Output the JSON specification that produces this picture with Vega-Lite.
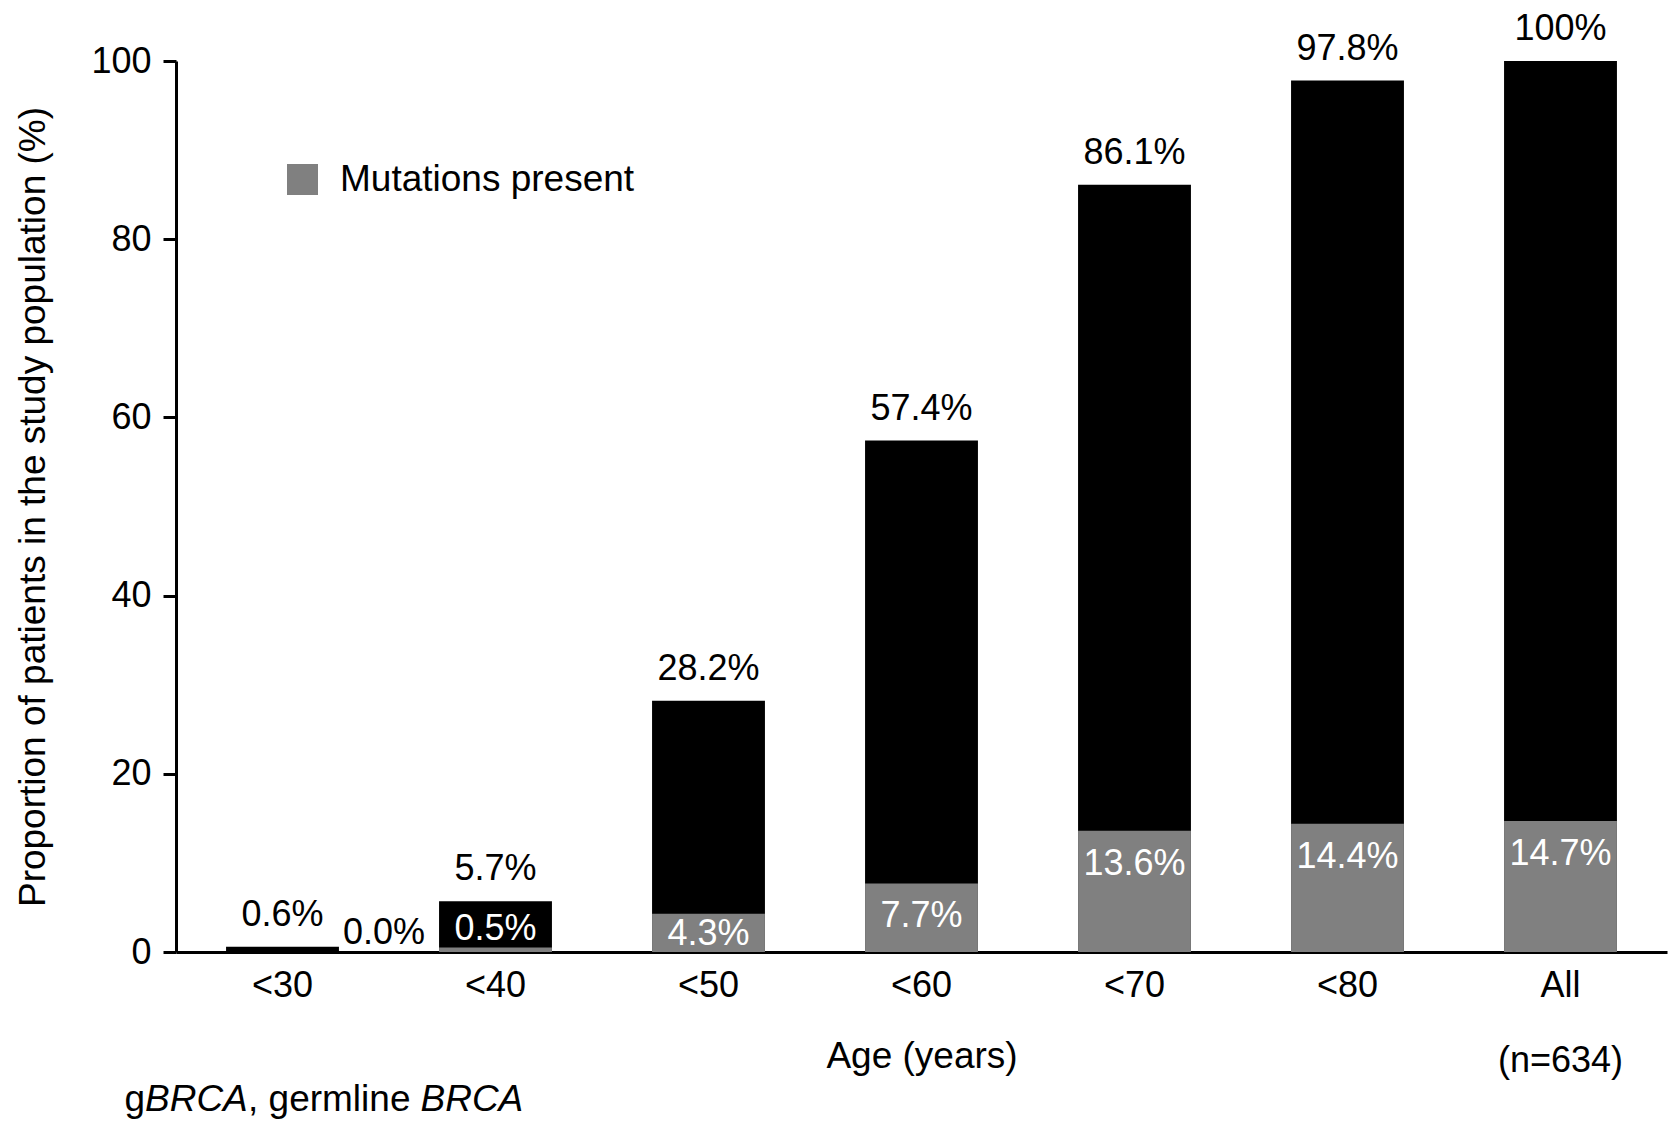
{
  "$schema": "https://vega.github.io/schema/vega-lite/v6.json",
  "width": 1491,
  "height": 891,
  "autosize": {"type": "none"},
  "padding": {"left": 176, "top": 61, "right": 2, "bottom": 169},
  "background": "white",
  "config": {
    "font": "Liberation Sans",
    "view": {"stroke": null},
    "axis": {"grid": false},
    "text": {"font": "Liberation Sans"}
  },
  "data": {
    "values": [
      {"age": "<30", "total": 0.6, "mut": 0.0, "total_label": "0.6%", "mut_label": "0.0%"},
      {"age": "<40", "total": 5.7, "mut": 0.5, "total_label": "5.7%", "mut_label": "0.5%"},
      {"age": "<50", "total": 28.2, "mut": 4.3, "total_label": "28.2%", "mut_label": "4.3%"},
      {"age": "<60", "total": 57.4, "mut": 7.7, "total_label": "57.4%", "mut_label": "7.7%"},
      {"age": "<70", "total": 86.1, "mut": 13.6, "total_label": "86.1%", "mut_label": "13.6%"},
      {"age": "<80", "total": 97.8, "mut": 14.4, "total_label": "97.8%", "mut_label": "14.4%"},
      {"age": "All", "total": 100, "mut": 14.7, "total_label": "100%", "mut_label": "14.7%"}
    ]
  },
  "layer": [
    {
      "mark": {"type": "bar", "color": "#000000"},
      "encoding": {
        "x": {
          "field": "age", "type": "nominal", "sort": null,
          "scale": {"paddingInner": 0.47, "paddingOuter": 0.235},
          "title": "Age (years)",
          "axis": {
            "labelAngle": 0,
            "ticks": false,
            "tickSize": 0,
            "domainWidth": 3,
            "domainColor": "#000000",
            "labelFontSize": 36,
            "labelColor": "#000000",
            "labelPadding": 16,
            "labelLineHeight": 75,
            "labelExpr": "datum.value == 'All' ? ['All', '(n=634)'] : datum.value",
            "titleFontSize": 37,
            "titleFontWeight": "normal",
            "titleColor": "#000000",
            "titleBaseline": "middle",
            "titleY": 104
          }
        },
        "y": {
          "field": "total", "type": "quantitative",
          "scale": {"domain": [0, 100], "nice": false},
          "title": "Proportion of patients in the study population (%)",
          "axis": {
            "values": [0, 20, 40, 60, 80, 100],
            "tickSize": 13,
            "tickWidth": 3,
            "tickColor": "#000000",
            "domainWidth": 3,
            "domainColor": "#000000",
            "labelFontSize": 36,
            "labelColor": "#000000",
            "labelPadding": 12,
            "titleFontSize": 37,
            "titleFontWeight": "normal",
            "titleColor": "#000000",
            "titlePadding": 38
          }
        }
      }
    },
    {
      "mark": {"type": "bar"},
      "encoding": {
        "x": {"field": "age", "type": "nominal", "sort": null, "title": "Age (years)"},
        "y": {"field": "mut", "type": "quantitative", "title": "Proportion of patients in the study population (%)"},
        "color": {
          "datum": "Mutations present",
          "scale": {"range": ["#808080"]},
          "legend": {
            "title": null,
            "orient": "none",
            "legendX": 108,
            "legendY": 100,
            "symbolType": "square",
            "symbolSize": 961,
            "symbolStrokeWidth": 0,
            "symbolOpacity": 1,
            "labelFontSize": 37,
            "labelColor": "#000000",
            "labelOffset": 19,
            "labelLimit": 0
          }
        }
      }
    },
    {
      "mark": {"type": "text", "baseline": "middle", "dy": -32, "fontSize": 36, "color": "#000000"},
      "encoding": {
        "x": {"field": "age", "type": "nominal", "sort": null, "title": "Age (years)"},
        "y": {"field": "total", "type": "quantitative", "title": "Proportion of patients in the study population (%)"},
        "text": {"field": "total_label"}
      }
    },
    {
      "transform": [{"filter": "indexof(['<60','<70','<80','All'], datum.age) >= 0"}],
      "mark": {"type": "text", "baseline": "middle", "dy": 33, "fontSize": 36, "color": "#ffffff"},
      "encoding": {
        "x": {"field": "age", "type": "nominal", "sort": null, "title": "Age (years)"},
        "y": {"field": "mut", "type": "quantitative", "title": "Proportion of patients in the study population (%)"},
        "text": {"field": "mut_label"}
      }
    },
    {
      "transform": [{"filter": "datum.age == '<50'"}],
      "mark": {"type": "text", "baseline": "middle", "dy": 20, "fontSize": 36, "color": "#ffffff"},
      "encoding": {
        "x": {"field": "age", "type": "nominal", "sort": null, "title": "Age (years)"},
        "y": {"field": "mut", "type": "quantitative", "title": "Proportion of patients in the study population (%)"},
        "text": {"field": "mut_label"}
      }
    },
    {
      "transform": [{"filter": "datum.age == '<40'"}],
      "mark": {"type": "text", "baseline": "middle", "dy": 28, "fontSize": 36, "color": "#ffffff"},
      "encoding": {
        "x": {"field": "age", "type": "nominal", "sort": null, "title": "Age (years)"},
        "y": {"field": "total", "type": "quantitative", "title": "Proportion of patients in the study population (%)"},
        "text": {"field": "mut_label"}
      }
    },
    {
      "transform": [{"filter": "datum.age == '<30'"}],
      "mark": {"type": "text", "baseline": "middle", "align": "left", "dx": 4, "dy": -19, "fontSize": 36, "color": "#000000"},
      "encoding": {
        "x": {"field": "age", "type": "nominal", "sort": null, "bandPosition": 1, "title": "Age (years)"},
        "y": {"field": "mut", "type": "quantitative", "title": "Proportion of patients in the study population (%)"},
        "text": {"field": "mut_label"}
      }
    },
    {
      "data": {"values": [{"note": "g"}]},
      "mark": {"type": "text", "baseline": "middle", "align": "left", "dx": -158, "dy": 148, "fontSize": 37, "color": "#000000"},
      "encoding": {
        "x": {"datum": "<30", "type": "nominal", "bandPosition": 0.5},
        "y": {"datum": 0, "type": "quantitative"},
        "text": {"field": "note"}
      }
    },
    {
      "data": {"values": [{"note": "BRCA"}]},
      "mark": {"type": "text", "baseline": "middle", "align": "left", "dx": -137.5, "dy": 148, "fontSize": 37, "fontStyle": "italic", "color": "#000000"},
      "encoding": {
        "x": {"datum": "<30", "type": "nominal", "bandPosition": 0.5},
        "y": {"datum": 0, "type": "quantitative"},
        "text": {"field": "note"}
      }
    },
    {
      "data": {"values": [{"note": ", germline"}]},
      "mark": {"type": "text", "baseline": "middle", "align": "left", "dx": -34.5, "dy": 148, "fontSize": 37, "color": "#000000"},
      "encoding": {
        "x": {"datum": "<30", "type": "nominal", "bandPosition": 0.5},
        "y": {"datum": 0, "type": "quantitative"},
        "text": {"field": "note"}
      }
    },
    {
      "data": {"values": [{"note": "BRCA"}]},
      "mark": {"type": "text", "baseline": "middle", "align": "left", "dx": 138, "dy": 148, "fontSize": 37, "fontStyle": "italic", "color": "#000000"},
      "encoding": {
        "x": {"datum": "<30", "type": "nominal", "bandPosition": 0.5},
        "y": {"datum": 0, "type": "quantitative"},
        "text": {"field": "note"}
      }
    }
  ]
}
